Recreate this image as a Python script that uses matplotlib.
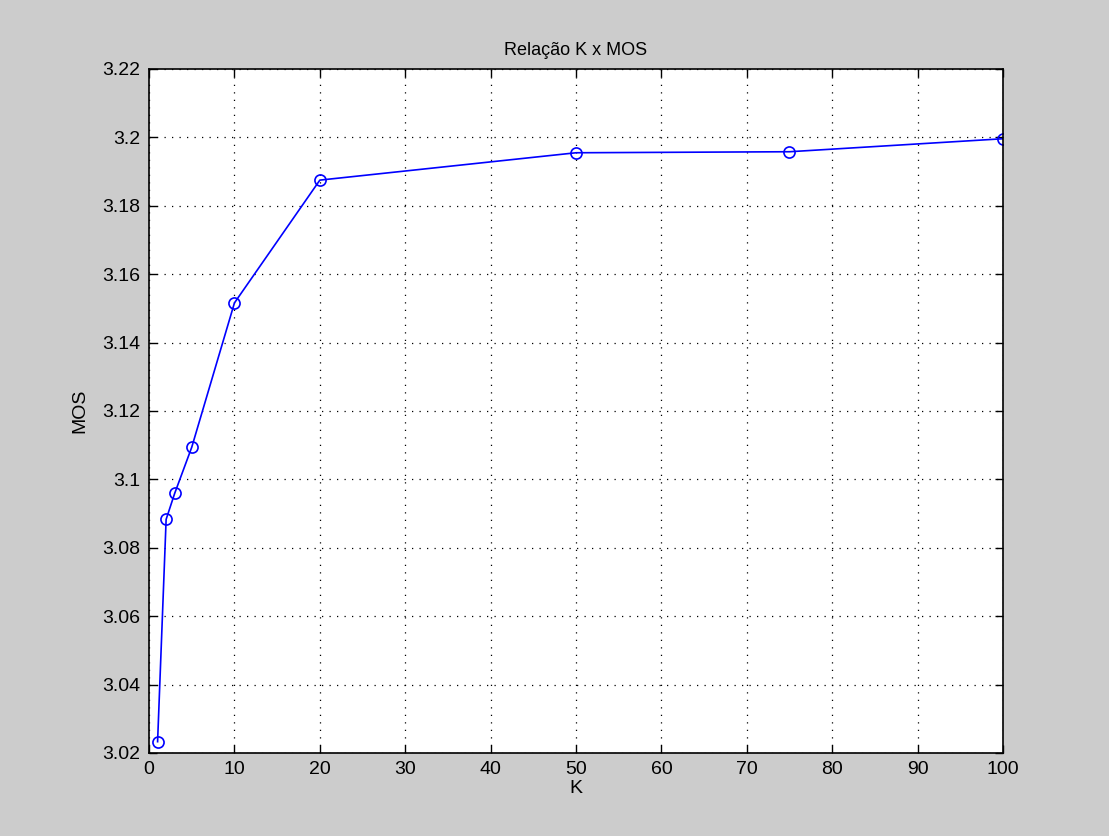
import matplotlib.pyplot as plt

k_values = [1, 2, 3, 5, 10, 20, 50, 75, 100]
mos_values = [3.0233, 3.0883, 3.0959, 3.1094, 3.1516, 3.1875, 3.1955, 3.1958, 3.1996]

x_ticks = list(range(0, 101, 10))
y_ticks = [3.02, 3.04, 3.06, 3.08, 3.10, 3.12, 3.14, 3.16, 3.18, 3.20, 3.22]
y_tick_labels = ["3.02", "3.04", "3.06", "3.08", "3.1", "3.12", "3.14", "3.16", "3.18", "3.2", "3.22"]

plt.rcParams["font.family"] = ["Liberation Sans", "DejaVu Sans"]

fig = plt.figure(figsize=(11.09, 8.36), dpi=100, facecolor="#cccccc")
ax = fig.add_axes([0.1344, 0.0993, 0.77, 0.8182])
ax.set_facecolor("white")

ax.plot(k_values, mos_values, color="blue", lw=1.2, marker="o",
        markersize=8, markerfacecolor="none", markeredgecolor="blue",
        markeredgewidth=1.2)

ax.set_xlim(0, 100)
ax.set_ylim(3.02, 3.22)
ax.set_xticks(x_ticks)
ax.set_yticks(y_ticks)
ax.set_yticklabels(y_tick_labels)
ax.grid(True, color="black", linestyle=(0, (1, 5)), linewidth=0.9)

ax.tick_params(direction="in", length=6, width=1, top=True, right=True,
               labelsize=14, pad=6)
for s in ax.spines.values():
    s.set_linewidth(1.2)

ax.set_xlabel("K", fontsize=14, labelpad=1)
ax.set_ylabel("MOS", fontsize=14, labelpad=10)
ax.set_title("Relação K x MOS", fontsize=13, pad=10)

fig.savefig("out.png", dpi=100, facecolor=fig.get_facecolor())
